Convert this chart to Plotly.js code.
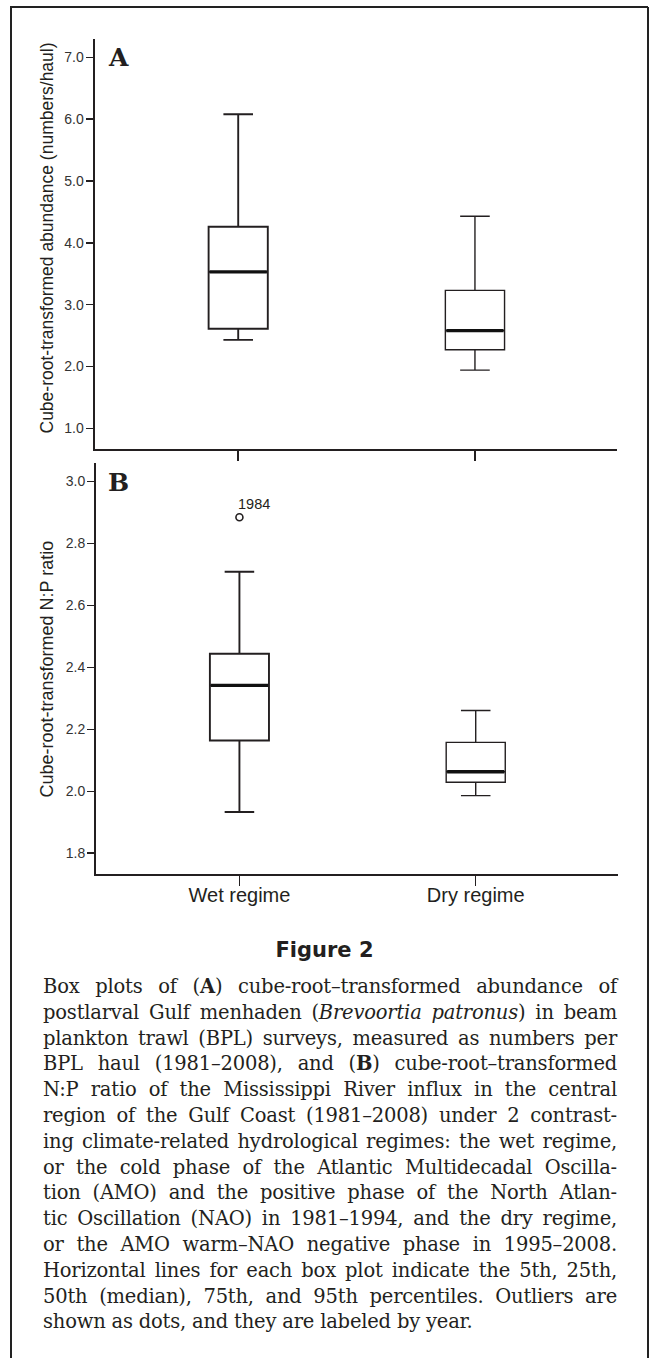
<!DOCTYPE html>
<html>
<head>
<meta charset="utf-8">
<script src="https://cdn.plot.ly/plotly-3.0.1.min.js"></script>
<style>
  html, body { margin: 0; padding: 0; background: #ffffff; overflow: hidden; }
  #wrap { position: relative; width: 649px; height: 1358px; }
  #plot { position: absolute; left: 0; top: 0; width: 649px; height: 1358px; }
  #figtitle { position: absolute; left: 0; width: 649px; top: 937px; text-align: center;
    font-family: "DejaVu Sans", sans-serif; font-weight: bold; font-size: 21px; color: #231f20; line-height: 26px; }
  #caption { position: absolute; left: 43px; width: 574px; top: 974px;
    font-family: "DejaVu Serif", serif; font-size: 19.5px; letter-spacing: -0.2px; line-height: 25.8px; color: #231f20; }
  #caption .ln { display: block; white-space: nowrap; text-align: justify; text-align-last: justify; }
  #caption .ln.last { text-align-last: left; }
</style>
</head>
<body>
<div id="wrap">
  <div id="plot"></div>
  <div id="figtitle">Figure 2</div>
  <div id="caption">
    <span class="ln">Box plots of (<b>A</b>) cube-root–transformed abundance of</span>
    <span class="ln">postlarval Gulf menhaden (<i>Brevoortia patronus</i>) in beam</span>
    <span class="ln">plankton trawl (BPL) surveys, measured as numbers per</span>
    <span class="ln">BPL haul (1981–2008), and (<b>B</b>) cube-root–transformed</span>
    <span class="ln">N:P ratio of the Mississippi River influx in the central</span>
    <span class="ln">region of the Gulf Coast (1981–2008) under 2 contrast-</span>
    <span class="ln">ing climate-related hydrological regimes: the wet regime,</span>
    <span class="ln">or the cold phase of the Atlantic Multidecadal Oscilla-</span>
    <span class="ln">tion (AMO) and the positive phase of the North Atlan-</span>
    <span class="ln">tic Oscillation (NAO) in 1981–1994, and the dry regime,</span>
    <span class="ln">or the AMO warm–NAO negative phase in 1995–2008.</span>
    <span class="ln">Horizontal lines for each box plot indicate the 5th, 25th,</span>
    <span class="ln">50th (median), 75th, and 95th percentiles. Outliers are</span>
    <span class="ln last">shown as dots, and they are labeled by year.</span>
  </div>
</div>
<script>
// ---------------- data ----------------
const categories = ['Wet regime', 'Dry regime'];

// Panel A: cube-root-transformed abundance (numbers/haul)
const abundP5  = [2.43, 1.94];
const abundQ1  = [2.61, 2.27];
const abundMed = [3.53, 2.58];
const abundQ3  = [4.26, 3.23];
const abundP95 = [6.08, 4.43];

// Panel B: cube-root-transformed N:P ratio
const npP5  = [1.933, 1.986];
const npQ1  = [2.164, 2.029];
const npMed = [2.342, 2.063];
const npQ3  = [2.444, 2.158];
const npP95 = [2.709, 2.261];

// Outliers (panel B)
const outlierCategory = [0];        // index into categories (Wet regime)
const outlierValue    = [2.885];
const outlierYear     = ['1984'];

const yTicksA = [1, 2, 3, 4, 5, 6, 7];
const yTicksB = [1.8, 2.0, 2.2, 2.4, 2.6, 2.8, 3.0];

// ---------------- caption fitting (shrink letter-spacing only if a line is too long) ----------------
document.querySelectorAll('#caption .ln').forEach(el => {
  el.style.display = 'inline-block';
  let w = el.getBoundingClientRect().width;
  const n = el.textContent.length;
  if (w > 574) {
    el.style.letterSpacing = (-0.2 - (w - 572) / n) + 'px';
  }
  el.style.display = 'block';
});

// ---------------- layout helpers ----------------
const W = 649, H = 1358;
const px = v => v / W;
const py = v => 1 - v / H;
const ink = '#231f20';
const boxW = 0.25;
const lineWidths = [1.9, 1.4];

const traces = [];
function addPanel(p5, q1, med, q3, p95, xa, ya) {
  categories.forEach((c, i) => {
    traces.push({
      type: 'box', x: [i], q1: [q1[i]], median: [med[i]], q3: [q3[i]],
      lowerfence: [p5[i]], upperfence: [p95[i]],
      width: boxW, whiskerwidth: 0.5, boxpoints: false,
      fillcolor: '#ffffff', line: { color: ink, width: lineWidths[i] },
      xaxis: xa, yaxis: ya, hoverinfo: 'skip', showlegend: false
    });
    traces.push({
      type: 'scatter', mode: 'lines',
      x: [i - boxW / 2 + 0.004, i + boxW / 2 - 0.004], y: [med[i], med[i]],
      line: { color: '#111111', width: 3.4 },
      xaxis: xa, yaxis: ya, hoverinfo: 'skip', showlegend: false
    });
  });
}
addPanel(abundP5, abundQ1, abundMed, abundQ3, abundP95, 'x', 'y');
addPanel(npP5, npQ1, npMed, npQ3, npP95, 'x2', 'y2');

traces.push({
  type: 'scatter', mode: 'markers',
  x: outlierCategory, y: outlierValue,
  marker: { symbol: 'circle-open', size: 7, color: ink, line: { width: 1.6, color: ink } },
  xaxis: 'x2', yaxis: 'y2', hoverinfo: 'skip', showlegend: false
});

const tickFont = { family: 'Liberation Sans, Arial, sans-serif', size: 14, color: '#333333' };
const baseX = {
  range: [-0.607, 1.6], tickvals: [0, 1], ticktext: categories,
  showgrid: false, zeroline: false, showline: true, linewidth: 2, linecolor: ink,
  ticks: 'outside', ticklen: 10, tickwidth: 1.5, tickcolor: ink, fixedrange: true
};
const baseY = {
  showgrid: false, zeroline: false, showline: true, linewidth: 2, linecolor: ink,
  ticks: 'outside', ticklen: 7, tickwidth: 1.5, tickcolor: ink, tickformat: '.1f',
  tickfont: tickFont, fixedrange: true, ticklabelstandoff: -1
};

const annotations = [
  { xref: 'paper', yref: 'paper', x: px(46), y: py(238.5), text: 'Cube-root-transformed abundance (numbers/haul)',
    textangle: -90, showarrow: false, xanchor: 'center', yanchor: 'middle',
    font: { family: 'Liberation Sans, Arial, sans-serif', size: 17.5, color: ink } },
  { xref: 'paper', yref: 'paper', x: px(46), y: py(669.5), text: 'Cube-root-transformed N:P ratio',
    textangle: -90, showarrow: false, xanchor: 'center', yanchor: 'middle',
    font: { family: 'Liberation Sans, Arial, sans-serif', size: 18, color: ink } },
  { xref: 'paper', yref: 'paper', x: px(106), y: py(58), text: '<b>A</b>', showarrow: false,
    xanchor: 'left', yanchor: 'middle',
    font: { family: 'DejaVu Serif, serif', size: 25, color: ink } },
  { xref: 'paper', yref: 'paper', x: px(106), y: py(482), text: '<b>B</b>', showarrow: false,
    xanchor: 'left', yanchor: 'middle',
    font: { family: 'DejaVu Serif, serif', size: 25, color: ink } }
];
outlierCategory.forEach((ci, k) => {
  annotations.push({
    xref: 'x2', yref: 'y2', x: ci, y: outlierValue[k], text: outlierYear[k], showarrow: false,
    xanchor: 'left', yanchor: 'bottom', xshift: -3, yshift: 3,
    font: { family: 'Liberation Sans, Arial, sans-serif', size: 14.5, color: ink }
  });
});

const frame = { type: 'line', xref: 'paper', yref: 'paper', line: { color: '#222222', width: 2 } };
const shapes = [
  Object.assign({}, frame, { x0: px(11), x1: px(11), y0: py(1358), y1: py(7) }),
  Object.assign({}, frame, { x0: px(10), x1: px(648), y0: py(7), y1: py(7) }),
  Object.assign({}, frame, { x0: px(648), x1: px(648), y0: py(7), y1: py(1358) })
];

const layout = {
  width: W, height: H,
  margin: { l: 0, r: 0, t: 0, b: 0, pad: 0 },
  paper_bgcolor: '#ffffff', plot_bgcolor: 'rgba(0,0,0,0)',
  showlegend: false,
  xaxis: Object.assign({}, baseX, { domain: [px(94.5), px(617)], anchor: 'y', showticklabels: false }),
  yaxis: Object.assign({}, baseY, { domain: [py(449), py(39)], anchor: 'x', range: [0.665, 7.296], tickvals: yTicksA }),
  xaxis2: Object.assign({}, baseX, { domain: [px(96), px(617.5)], anchor: 'y2', showticklabels: true,
    ticklabelstandoff: -8,
    tickfont: { family: 'Liberation Sans, Arial, sans-serif', size: 20, color: ink } }),
  yaxis2: Object.assign({}, baseY, { domain: [py(874.3), py(462.7)], anchor: 'x2', range: [1.732, 3.061], tickvals: yTicksB }),
  annotations: annotations,
  shapes: shapes
};

Plotly.newPlot('plot', traces, layout, { displayModeBar: false, staticPlot: true });
</script>
</body>
</html>
